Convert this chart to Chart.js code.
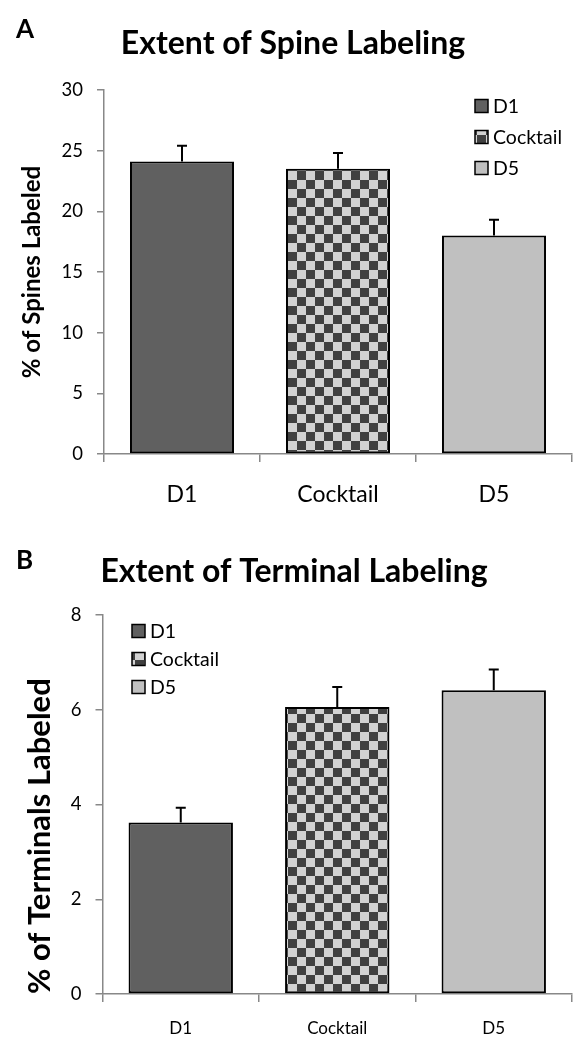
<!DOCTYPE html>
<html lang="en">
<head>
  <meta charset="utf-8">
  <script src="https://cdn.jsdelivr.net/npm/chart.js"></script>
  <style>
    body { margin: 0; background: #fff; }
    .panel { position: absolute; left: 0; width: 588px; height: 525px; }
  </style>
</head>
<body>
  <div class="panel" style="top: 0;"><canvas id="chartSpine" width="588" height="525"></canvas></div>
  <div class="panel" style="top: 525px;"><canvas id="chartTerminal" width="588" height="525"></canvas></div>

<script>
  // data
  var categories = ['D1', 'Cocktail', 'D5'];
  var spineValues = [24.1, 23.5, 18.0];
  var spineErrors = [1.3, 1.3, 1.3];
  var spineTicks = [0, 5, 10, 15, 20, 25, 30];
  var terminalValues = [3.62, 6.06, 6.41];
  var terminalErrors = [0.31, 0.42, 0.44];
  var terminalTicks = [0, 2, 4, 6, 8];

  Chart.defaults.font.family = 'Lato, "Open Sans", sans-serif';
  Chart.defaults.color = '#000';

  // checkerboard fill used for the Cocktail bar
  function checker(ctx) {
    var c = document.createElement('canvas');
    c.width = 18; c.height = 18;
    var g = c.getContext('2d');
    g.fillStyle = '#d2d2d2';
    g.fillRect(0, 0, 18, 18);
    g.fillStyle = '#404040';
    g.fillRect(0, 0, 9, 9);
    g.fillRect(9, 9, 9, 9);
    return ctx.createPattern(c, 'repeat');
  }

  // error bars, legend, title and panel letter
  var decor = {
    id: 'decor',
    afterDatasetsDraw: function (chart, args, o) {
      var ctx = chart.ctx;
      var ds = chart.data.datasets[0];
      var meta = chart.getDatasetMeta(0);
      var y = chart.scales.y;
      ctx.save();
      ctx.strokeStyle = '#000';
      ctx.lineWidth = 2;
      meta.data.forEach(function (bar, i) {
        var top = y.getPixelForValue(ds.data[i] + o.errors[i]);
        ctx.beginPath();
        ctx.moveTo(bar.x, bar.y);
        ctx.lineTo(bar.x, top);
        ctx.moveTo(bar.x - 5, top);
        ctx.lineTo(bar.x + 5, top);
        ctx.stroke();
      });

      // legend
      ctx.font = o.legendFont;
      ctx.textBaseline = 'middle';
      ctx.textAlign = 'left';
      chart.data.labels.forEach(function (lab, i) {
        var cy = o.legendY + i * o.legendGap;
        ctx.fillStyle = ds.backgroundColor[i];
        ctx.fillRect(o.legendX, cy - 6.5, 13, 13);
        ctx.lineWidth = 1.5;
        ctx.strokeRect(o.legendX, cy - 6.5, 13, 13);
        ctx.fillStyle = '#000';
        ctx.fillText(lab, o.legendX + 18, cy + 1);
      });

      // title
      ctx.font = 'bold 32px Lato, sans-serif';
      ctx.textAlign = 'center';
      ctx.fillText(o.title, o.titleX, o.titleY);
      // panel letter
      ctx.font = 'bold 26px Lato, sans-serif';
      ctx.textAlign = 'left';
      ctx.fillText(o.letter, 16, o.letterY);
      ctx.restore();
    }
  };

  function makeChart(id, values, errors, ticks, cfg) {
    var ctx = document.getElementById(id).getContext('2d');
    var fills = ['#606060', checker(ctx), '#c0c0c0'];
    return new Chart(ctx, {
      type: 'bar',
      data: {
        labels: categories,
        datasets: [{
          data: values,
          backgroundColor: fills,
          borderColor: '#000',
          borderWidth: 2,
          borderSkipped: false,
          categoryPercentage: 1,
          barPercentage: 0.667
        }]
      },
      options: {
        responsive: false,
        animation: false,
        devicePixelRatio: 1,
        layout: { padding: { top: 90, right: 16, bottom: 0, left: 0 } },
        plugins: {
          legend: { display: false },
          tooltip: { enabled: false },
          decor: {
            errors: errors,
            title: cfg.title, titleX: cfg.titleX, titleY: cfg.titleY,
            letter: cfg.letter, letterY: cfg.letterY,
            legendX: cfg.legendX, legendY: cfg.legendY, legendGap: cfg.legendGap,
            legendFont: '19.5px Lato, sans-serif'
          }
        },
        scales: {
          x: {
            afterFit: function (s) { s.height = cfg.xHeight; },
            grid: { offset: true, drawOnChartArea: false, tickLength: 8, color: '#888', lineWidth: 1.5 },
            border: { color: '#888', width: 1.5 },
            ticks: { font: { size: cfg.xFont }, padding: cfg.xPad }
          },
          y: {
            min: 0,
            max: ticks[ticks.length - 1],
            afterFit: function (s) { s.width = cfg.yWidth; },
            afterBuildTicks: function (s) { s.ticks = ticks.map(function (v) { return { value: v }; }); },
            grid: { drawOnChartArea: false, tickLength: 7, color: '#888', lineWidth: 1.5 },
            border: { color: '#888', width: 1.5 },
            ticks: { font: { size: 18.5 }, padding: 14 },
            title: {
              display: true,
              text: cfg.yTitle,
              align: cfg.yTitleAlign,
              font: { size: cfg.yTitleSize, weight: 'bold' },
              padding: { top: cfg.yTitlePad, bottom: 0 }
            }
          }
        }
      },
      plugins: [decor]
    });
  }

  makeChart('chartSpine', spineValues, spineErrors, spineTicks, {
    title: 'Extent of Spine Labeling', titleX: 293, titleY: 44,
    letter: 'A', letterY: 30,
    legendX: 475, legendY: 106, legendGap: 31,
    xHeight: 71, xFont: 23, xPad: 19,
    yWidth: 104, yTitle: '% of Spines Labeled', yTitleSize: 24, yTitlePad: 18, yTitleAlign: 'center'
  });

  makeChart('chartTerminal', terminalValues, terminalErrors, terminalTicks, {
    title: 'Extent of Terminal Labeling', titleX: 294, titleY: 47,
    letter: 'B', letterY: 36,
    legendX: 132, legendY: 106, legendGap: 28,
    xHeight: 56, xFont: 17, xPad: 16,
    yWidth: 102.5, yTitle: '% of Terminals Labeled', yTitleSize: 31, yTitlePad: 21, yTitleAlign: 'start'
  });
</script>
</body>
</html>
